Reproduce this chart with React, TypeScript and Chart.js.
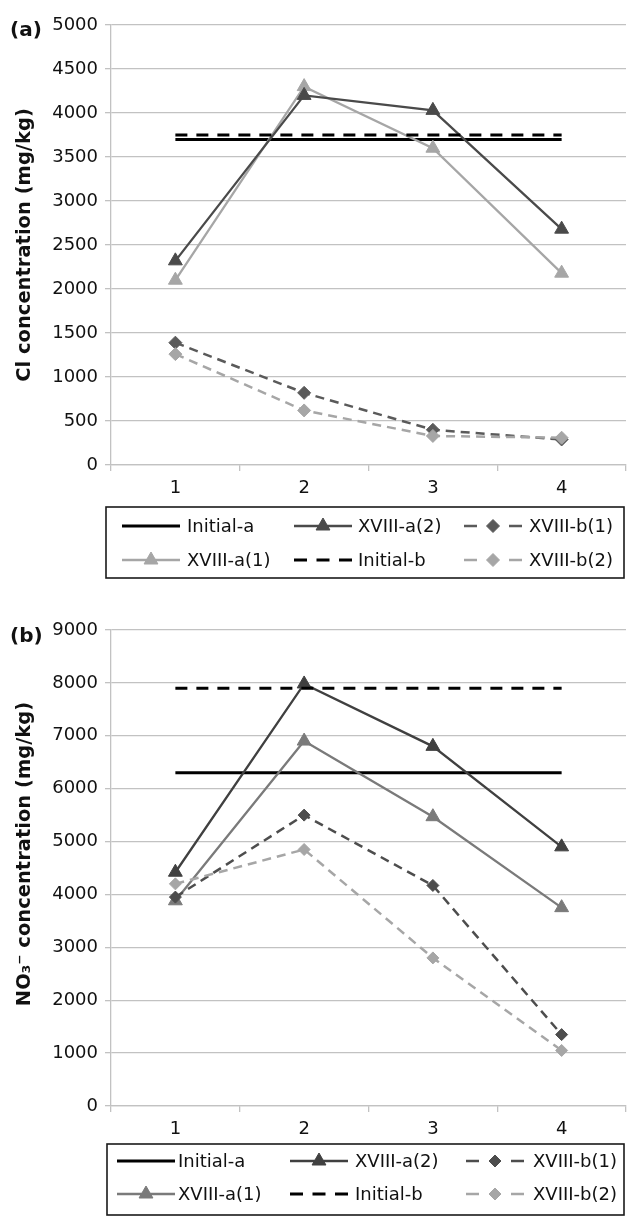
import React, { useEffect, useRef } from "react";
import { Chart, registerables } from "chart.js";

Chart.register(...registerables);

// ---------- data ----------
const categories = ["1", "2", "3", "4"];

// (a) Cl concentration (mg/kg)
const clInitialA = [3700, 3700, 3700, 3700];
const clA1 = [2100, 4300, 3600, 2180];
const clA2 = [2320, 4200, 4030, 2680];
const clInitialB = [3750, 3750, 3750, 3750];
const clB1 = [1390, 820, 400, 290];
const clB2 = [1260, 620, 330, 310];
const clAxis = { min: 0, max: 5000, step: 500 };

// (b) NO3- concentration (mg/kg)
const noInitialA = [6300, 6300, 6300, 6300];
const noA1 = [3880, 6900, 5470, 3750];
const noA2 = [4420, 7980, 6800, 4900];
const noInitialB = [7900, 7900, 7900, 7900];
const noB1 = [3950, 5500, 4170, 1350];
const noB2 = [4200, 4850, 2800, 1050];
const noAxis = { min: 0, max: 9000, step: 1000 };

const seriesLabels = ["Initial-a", "XVIII-a(1)", "XVIII-a(2)", "Initial-b", "XVIII-b(1)", "XVIII-b(2)"];

const FONT = '"DejaVu Sans", sans-serif';

function drawMarker(ctx: CanvasRenderingContext2D, style: string, x: number, y: number, r: number, color: string) {
  ctx.save();
  ctx.fillStyle = color;
  ctx.strokeStyle = color;
  ctx.lineWidth = 1;
  ctx.setLineDash([]);
  ctx.beginPath();
  if (style === "triangle") {
    let rad = 0;
    ctx.moveTo(x + Math.sin(rad) * r, y - Math.cos(rad) * r);
    rad += (2 * Math.PI) / 3;
    ctx.lineTo(x + Math.sin(rad) * r, y - Math.cos(rad) * r);
    rad += (2 * Math.PI) / 3;
    ctx.lineTo(x + Math.sin(rad) * r, y - Math.cos(rad) * r);
  } else {
    ctx.moveTo(x - r, y);
    ctx.lineTo(x, y - r);
    ctx.lineTo(x + r, y);
    ctx.lineTo(x, y + r);
  }
  ctx.closePath();
  ctx.fill();
  ctx.stroke();
  ctx.restore();
}

const panelDecor = {
  id: "panelDecor",
  afterDraw(chart: any, _args: any, o: any) {
    const ctx: CanvasRenderingContext2D = chart.ctx;
    ctx.save();
    // panel label
    ctx.fillStyle = "#111";
    ctx.font = `bold 20px ${FONT}`;
    ctx.textAlign = "left";
    ctx.textBaseline = "middle";
    ctx.fillText(o.label, o.labelX, o.labelY);
    // y-axis title
    ctx.save();
    ctx.translate(o.titleX, o.titleY);
    ctx.rotate(-Math.PI / 2);
    ctx.textAlign = "center";
    ctx.font = `bold ${o.titleSize}px ${FONT}`;
    ctx.fillText(o.title, 0, 0);
    ctx.restore();

    // legend grid (3 columns x 2 rows, column-major)
    const L = o.legend;
    ctx.strokeStyle = "#1a1a1a";
    ctx.lineWidth = 1.6;
    ctx.setLineDash([]);
    ctx.strokeRect(L.x, L.y, L.w, L.h);
    chart.data.datasets.forEach((ds: any, i: number) => {
      const col = Math.floor(i / 2);
      const row = i % 2;
      const x0 = L.sampleX[col];
      const y = L.rowY[row];
      const len = L.sampleLen;
      const dashed = ds.borderDash && ds.borderDash.length > 0;
      ctx.strokeStyle = ds.borderColor;
      ctx.lineWidth = ds.borderWidth;
      ctx.setLineDash([]);
      ctx.beginPath();
      if (dashed && ds.pointRadius > 0) {
        ctx.moveTo(x0, y);
        ctx.lineTo(x0 + 13, y);
        ctx.moveTo(x0 + len - 13, y);
        ctx.lineTo(x0 + len, y);
      } else if (dashed) {
        ctx.setLineDash([13, (len - 39) / 2]);
        ctx.moveTo(x0, y);
        ctx.lineTo(x0 + len, y);
      } else {
        ctx.moveTo(x0, y);
        ctx.lineTo(x0 + len, y);
      }
      ctx.stroke();
      ctx.setLineDash([]);
      if (ds.pointRadius > 0) {
        drawMarker(ctx, ds.pointStyle, x0 + len / 2, y, ds.pointRadius, ds.pointBackgroundColor);
      }
      ctx.fillStyle = "#111";
      ctx.font = `18px ${FONT}`;
      ctx.textAlign = "left";
      ctx.textBaseline = "middle";
      ctx.fillText(ds.label, L.textX[col], y + 1);
    });
    ctx.restore();
  },
};

function makeDatasets(values: number[][], colors: string[], triR: number, diaR: number) {
  const styles = [
    { width: 3, dash: [], point: "line", r: 0 },
    { width: 2.3, dash: [], point: "triangle", r: triR },
    { width: 2.3, dash: [], point: "triangle", r: triR },
    { width: 3, dash: [12, 9], point: "line", r: 0 },
    { width: 2.5, dash: [9, 6], point: "rectRot", r: diaR },
    { width: 2.5, dash: [9, 6], point: "rectRot", r: diaR },
  ];
  return values.map((data, i) => ({
    label: seriesLabels[i],
    data,
    borderColor: colors[i],
    backgroundColor: colors[i],
    pointBackgroundColor: colors[i],
    pointBorderColor: colors[i],
    pointBorderWidth: 1,
    borderWidth: styles[i].width,
    borderDash: styles[i].dash,
    pointStyle: styles[i].point,
    pointRadius: styles[i].r,
    pointHoverRadius: styles[i].r,
    tension: 0,
    fill: false,
    clip: false,
    order: values.length - i,
  }));
}

function makeConfig(p: any) {
  const gridColor = "#c2c2c2";
  return {
    type: "line" as const,
    data: { labels: categories, datasets: p.datasets },
    plugins: [panelDecor],
    options: {
      responsive: false,
      animation: false as const,
      layout: { autoPadding: false, padding: { left: 0, right: 1, top: p.top, bottom: p.bottom } },
      plugins: {
        legend: { display: false },
        tooltip: { enabled: false },
        panelDecor: p.decor,
      },
      scales: {
        x: {
          type: "category" as const,
          offset: true,
          afterFit: (s: any) => {
            s.height = 40;
            s.paddingLeft = 0;
            s.paddingRight = 0;
          },
          grid: {
            offset: true,
            drawOnChartArea: false,
            drawTicks: true,
            tickLength: 6,
            color: gridColor,
            lineWidth: 1.3,
          },
          border: { display: true, color: gridColor, width: 1.3 },
          ticks: { padding: 7, color: "#111", font: { family: FONT, size: 18 } },
        },
        y: {
          min: p.axis.min,
          max: p.axis.max,
          afterFit: (s: any) => {
            s.width = 111;
            s.paddingTop = 0;
            s.paddingBottom = 0;
          },
          grid: { color: gridColor, tickLength: 6, drawTicks: true, lineWidth: 1.3 },
          border: { display: true, color: gridColor, width: 1.3 },
          ticks: {
            stepSize: p.axis.step,
            padding: 7,
            color: "#111",
            font: { family: FONT, size: 18 },
            callback: (v: any) => String(v),
          },
        },
      },
    },
  };
}

export default function App() {
  const refA = useRef<HTMLCanvasElement | null>(null);
  const refB = useRef<HTMLCanvasElement | null>(null);

  useEffect(() => {
    const cfgA = makeConfig({
      datasets: makeDatasets(
        [clInitialA, clA1, clA2, clInitialB, clB1, clB2],
        ["#000000", "#a6a6a6", "#4a4a4a", "#000000", "#5a5a5a", "#a6a6a6"],
        8,
        6.5
      ),
      axis: clAxis,
      top: 25,
      bottom: 95,
      decor: {
        label: "(a)",
        labelX: 10,
        labelY: 31,
        title: "Cl concentration (mg/kg)",
        titleSize: 19.5,
        titleX: 25,
        titleY: 245,
        legend: {
          x: 106,
          y: 507,
          w: 518,
          h: 71,
          rowY: [526, 560],
          sampleX: [122, 294, 464],
          textX: [187, 358, 529],
          sampleLen: 58,
        },
      },
    });
    const cfgB = makeConfig({
      datasets: makeDatasets(
        [noInitialA, noA1, noA2, noInitialB, noB1, noB2],
        ["#000000", "#7a7a7a", "#404040", "#000000", "#4d4d4d", "#a6a6a6"],
        8,
        6
      ),
      axis: noAxis,
      top: 30,
      bottom: 70,
      decor: {
        label: "(b)",
        labelX: 10,
        labelY: 37,
        title: "NO\u2083\u207B concentration (mg/kg)",
        titleSize: 19.5,
        titleX: 25,
        titleY: 254,
        legend: {
          x: 107,
          y: 544,
          w: 517,
          h: 71,
          rowY: [561, 594],
          sampleX: [117, 290, 466],
          textX: [178, 355, 533],
          sampleLen: 58,
        },
      },
    });
    const a = new Chart(refA.current as HTMLCanvasElement, cfgA as any);
    const b = new Chart(refB.current as HTMLCanvasElement, cfgB as any);
    return () => {
      a.destroy();
      b.destroy();
    };
  }, []);

  return (
    <div style={{ position: "absolute", left: 0, top: 0, width: 627, height: 1216, background: "#fff" }}>
      <canvas ref={refA} width={627} height={600} style={{ position: "absolute", left: 0, top: 0 }} />
      <canvas ref={refB} width={627} height={616} style={{ position: "absolute", left: 0, top: 600 }} />
    </div>
  );
}
